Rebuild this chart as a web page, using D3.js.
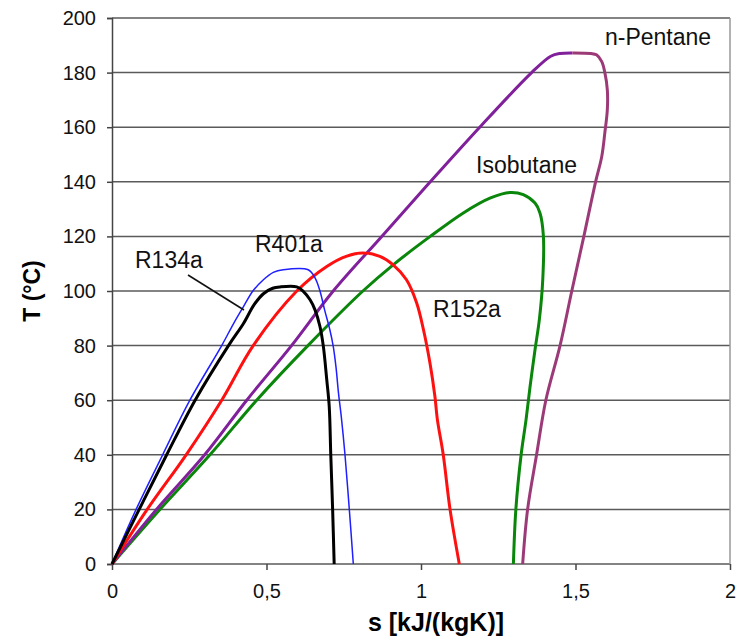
<!DOCTYPE html>
<html>
<head>
<meta charset="utf-8">
<script src="https://cdn.jsdelivr.net/npm/d3@7"></script>
<style>
  body { margin: 0; background: #fff; }
  text { font-family: Arial, "Liberation Sans", sans-serif; }
</style>
</head>
<body>
<div id="container"></div>
<script>
// s [kJ/(kgK)], T [°C] pairs
var r134a = [[0,0],[0.088,20],[0.177,40],[0.269,60],[0.377,80],[0.425,88],[0.46,95],[0.49,99],
  [0.52,101],[0.544,101.5],[0.598,101.5],[0.619,99.9],[0.641,96.8],[0.657,93.1],[0.673,87],
  [0.684,79.7],[0.695,67.5],[0.703,57.7],[0.708,40],[0.714,20],[0.719,0]];
var r401a = [[0,0],[0.078,20],[0.164,40],[0.252,60],[0.355,80],[0.393,88],[0.426,94.4],[0.456,100],
  [0.49,104.1],[0.522,106.8],[0.554,107.8],[0.635,107.8],[0.657,104.8],[0.673,100],[0.688,93.1],
  [0.705,85.8],[0.716,79.7],[0.725,72],[0.733,62.6],[0.742,54],[0.754,40],[0.768,20],[0.781,0]];
var r152a = [[0,0],[0.114,20],[0.24,40],[0.355,60],[0.457,80],[0.598,100],[0.695,109],[0.76,112.8],
  [0.812,113.9],[0.867,112.7],[0.91,109.6],[0.953,104.1],[0.986,95.6],[1.008,85.8],[1.029,73.6],
  [1.045,61.4],[1.053,52.9],[1.072,40],[1.094,20],[1.124,0]];
var isobutane = [[0,0],[0.155,20],[0.317,40],[0.468,60],[0.634,80],[0.812,100],[0.91,109.6],[1.03,120],
  [1.137,128.6],[1.223,134],[1.288,136.1],[1.331,135.3],[1.369,132.2],[1.385,128.6],[1.396,120.3],
  [1.394,104.1],[1.383,89.5],[1.369,78.5],[1.353,65],[1.34,52.9],[1.324,40],[1.307,20],[1.299,0]];
var pentaneLeft = [[0,0],[0.144,20],[0.3,40],[0.436,60],[0.581,80],[0.716,100],[0.873,120],[1.03,140],
  [1.19,160],[1.358,180],[1.42,186],[1.45,187],[1.49,187.2]];
var pentaneRight = [[1.49,187.2],[1.55,187],[1.568,186.5],[1.585,184],[1.595,180],[1.603,173.7],
  [1.603,166.4],[1.595,158],[1.585,149.3],[1.565,140],[1.527,120],[1.488,100],[1.45,80],[1.404,60],
  [1.374,40],[1.345,20],[1.329,0]];

var xTicks = [0, 0.5, 1, 1.5, 2];
var yTicks = [0, 20, 40, 60, 80, 100, 120, 140, 160, 180, 200];

var width = 740, height = 636;
var margin = {left: 112, right: 10, top: 18, bottom: 72};

var svg = d3.select("#container").append("svg")
    .attr("width", width)
    .attr("height", height);

var x = d3.scaleLinear().domain([0, 2]).range([margin.left, 730]);
var y = d3.scaleLinear().domain([0, 200]).range([564, margin.top]);

// grid lines
svg.append("g").selectAll("line")
  .data(yTicks)
  .enter().append("line")
    .attr("x1", x(0)).attr("x2", x(2))
    .attr("y1", function(d) { return y(d); })
    .attr("y2", function(d) { return y(d); })
    .attr("stroke", "#5a5a5a")
    .attr("stroke-width", 1.5);

// right border
svg.append("line")
    .attr("x1", x(2)).attr("x2", x(2))
    .attr("y1", y(200)).attr("y2", y(0))
    .attr("stroke", "#999")
    .attr("stroke-width", 1.5);

var yAxis = svg.append("g")
    .attr("transform", "translate(" + x(0) + ",0)")
    .call(d3.axisLeft(y).tickValues(yTicks).tickSize(5).tickPadding(11));

var xAxis = svg.append("g")
    .attr("transform", "translate(0," + y(0) + ")")
    .call(d3.axisBottom(x).tickValues(xTicks).tickSize(6).tickPadding(14)
      .tickFormat(function(d) { return String(d).replace(".", ","); }));

[yAxis, xAxis].forEach(function(a) {
  a.select(".domain").attr("stroke", "#444").attr("stroke-width", 1.5);
  a.selectAll(".tick line").attr("stroke", "#444").attr("stroke-width", 1.5);
  a.selectAll(".tick text").attr("fill", "#111").style("font-size", "20px")
    .style("font-family", "Arial, 'Liberation Sans', sans-serif");
});
xAxis.select(".domain").remove();

var line = d3.line()
    .curve(d3.curveCatmullRom.alpha(0.5))
    .x(function(d) { return x(d[0]); })
    .y(function(d) { return y(d[1]); });

var series = [
  {data: isobutane, color: "#0a860a", w: 3},
  {data: pentaneLeft, color: "#80209a", w: 3},
  {data: pentaneRight, color: "#9c3a78", w: 3},
  {data: r152a, color: "#ff1010", w: 3},
  {data: r401a, color: "#1f1fff", w: 1.5},
  {data: r134a, color: "#000000", w: 3}
];

svg.append("g").selectAll("path")
  .data(series)
  .enter().append("path")
    .attr("d", function(d) { return line(d.data); })
    .attr("fill", "none")
    .attr("stroke", function(d) { return d.color; })
    .attr("stroke-width", function(d) { return d.w; })
    .attr("stroke-linejoin", "round");

// curve labels
var labels = [
  {t: "n-Pentane", x: 605, y: 45},
  {t: "Isobutane", x: 476, y: 173},
  {t: "R401a", x: 255, y: 252},
  {t: "R134a", x: 135, y: 268},
  {t: "R152a", x: 433, y: 317}
];
svg.append("g").selectAll("text")
  .data(labels)
  .enter().append("text")
    .attr("x", function(d) { return d.x; })
    .attr("y", function(d) { return d.y; })
    .style("font-size", "23px")
    .attr("fill", "#111")
    .text(function(d) { return d.t; });

// leader for R134a
svg.append("line")
    .attr("x1", 188).attr("y1", 275)
    .attr("x2", 244).attr("y2", 310)
    .attr("stroke", "#111")
    .attr("stroke-width", 1.5);

// axis titles
svg.append("text")
    .attr("transform", "translate(40," + y(100) + ") rotate(-90)")
    .attr("text-anchor", "middle")
    .style("font-size", "23px")
    .style("font-weight", "bold")
    .text("T (°C)");

svg.append("text")
    .attr("x", 436)
    .attr("y", 631)
    .attr("text-anchor", "middle")
    .style("font-size", "25px")
    .style("font-weight", "bold")
    .text("s [kJ/(kgK)]");
</script>
</body>
</html>
